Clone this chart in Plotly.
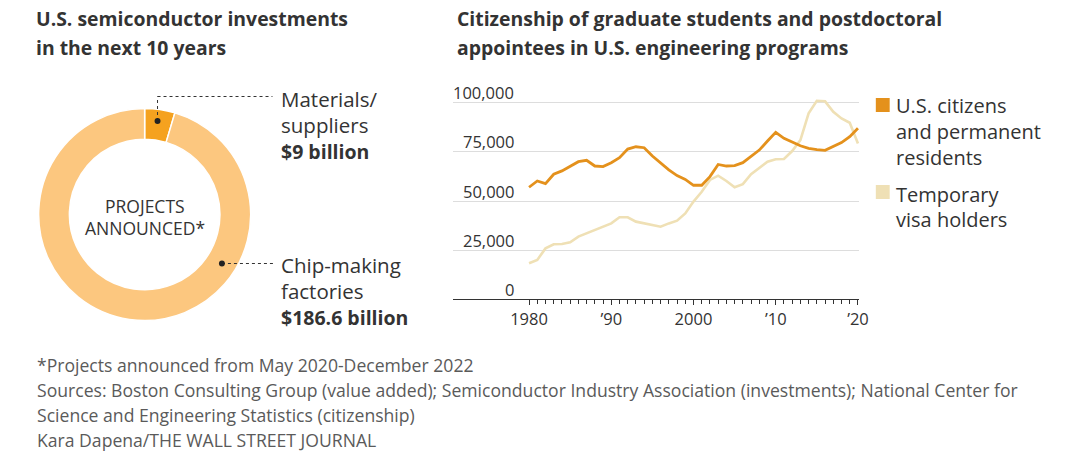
import plotly.graph_objects as go

# ---- Donut data ----
donut_labels = ["Materials/suppliers", "Chip-making factories"]
donut_values = [9.0, 186.6]
donut_colors = ["#f5a21f", "#fcc77f"]

# ---- Line chart data ----
years = list(range(1980, 2021))
us_citizens = [57.0, 60.2, 58.8, 63.6, 65.3, 67.5, 70.0, 70.7, 67.8, 67.5,
               69.5, 72.0, 76.4, 77.6, 77.1, 72.9, 69.2, 65.8, 62.9, 61.0,
               58.0, 58.0, 62.4, 68.6, 67.8, 68.0, 69.5, 72.9, 75.9, 80.5,
               84.9, 81.9, 79.8, 78.1, 76.8, 76.1, 75.8, 77.6, 79.7, 82.7,
               87.0]
temp_visa = [18.3, 20.0, 25.9, 28.0, 28.1, 29.0, 31.9, 33.6, 35.4, 36.9,
             38.6, 41.7, 41.7, 39.5, 38.6, 37.5, 36.9, 38.6, 40.0, 43.7,
             49.7, 54.7, 60.7, 62.9, 60.2, 57.0, 58.6, 63.6, 66.6, 70.0,
             71.2, 71.4, 75.4, 81.0, 94.6, 101.0, 100.7, 95.4, 92.0, 89.8,
             79.3]
us_citizens = [v * 1000 for v in us_citizens]
temp_visa = [v * 1000 for v in temp_visa]

y_ticks = [0, 25000, 50000, 75000, 100000]
y_tick_labels = ["0", "25,000", "50,000", "75,000", "100,000"]
x_ticks = [1980, 1990, 2000, 2010, 2020]
x_tick_labels = ["1980", "’90", "2000", "’10", "’20"]

W, H = 1080, 474
FONT = "Open Sans"
DARK = "#333333"
GRAY = "#5a5a5a"
ORANGE = "#e4911c"
LIGHT = "#efe0b5"


def px(x):
    return x / W


def py(y):
    return 1 - y / H


fig = go.Figure()

# Donut
fig.add_trace(go.Pie(
    labels=donut_labels, values=donut_values,
    marker=dict(colors=donut_colors, line=dict(color="white", width=1.5)),
    hole=0.71, sort=False, direction="clockwise", rotation=0,
    textinfo="none", hoverinfo="label+value", showlegend=False,
    domain=dict(x=[px(146 - 107), px(146 + 107)], y=[py(214.5 + 107), py(214.5 - 107)]),
))

# Lines
fig.add_trace(go.Scatter(x=years, y=temp_visa, mode="lines", name="Temporary visa holders",
                         line=dict(color=LIGHT, width=2.6), showlegend=False))
fig.add_trace(go.Scatter(x=years, y=us_citizens, mode="lines", name="U.S. citizens and permanent residents",
                         line=dict(color=ORANGE, width=2.8), showlegend=False))

ytop = 100000 * (299.3 - 95) / 196.6
fig.update_layout(
    width=W, height=H, margin=dict(l=0, r=0, t=0, b=0),
    paper_bgcolor="white", plot_bgcolor="white",
    font=dict(family=FONT, color=DARK),
    xaxis=dict(domain=[px(457.3), px(867.3)], range=[1970.76, 2020.16],
               tickmode="array", tickvals=x_ticks, ticktext=x_tick_labels,
               ticks="outside", ticklen=5, tickcolor=DARK, tickwidth=1,
               tickfont=dict(size=16.5, color=DARK, family=FONT),
               showgrid=False, zeroline=False, showline=True, linecolor=DARK, linewidth=1.2,
               minor=dict(tickmode="array", tickvals=years, ticks="outside", ticklen=3.5,
                          tickcolor=DARK, tickwidth=1, showgrid=False),
               fixedrange=True),
    yaxis=dict(domain=[py(299.3), py(95)], range=[0, ytop],
               tickmode="array", tickvals=y_ticks, showticklabels=False,
               showgrid=True, gridcolor="#dddddd", gridwidth=1, zeroline=False,
               fixedrange=True),
)

ann = []
# y tick labels above gridlines
for v, t in zip(y_ticks, y_tick_labels):
    ann.append(dict(x=px(521), xref="paper", y=v, yref="y", text=t, showarrow=False,
                    xanchor="right", yanchor="middle", yshift=10,
                    font=dict(size=16.5, color=DARK, family=FONT)))


def line(x, y, text, size, color=DARK, anchor="left"):
    ann.append(dict(x=px(x), y=py(y), xref="paper", yref="paper", xanchor=anchor, yanchor="middle",
                    text=text, showarrow=False, font=dict(size=size, color=color, family=FONT)))


# Titles
line(34, 19, "<b>U.S. semiconductor investments</b>", 19.4)
line(34, 47, "<b>in the next 10 years</b>", 19.4)
line(459, 19, "<b>Citizenship of graduate students and postdoctoral</b>", 19.4)
line(459, 47, "<b>appointees in U.S. engineering programs</b>", 19.4)

# Donut center text
line(146, 206, "PROJECTS", 17.5, anchor="center")
line(146, 228, "ANNOUNCED*", 17.5, anchor="center")

# Donut labels
line(282, 99, "Materials/", 20.5)
line(282, 125, "suppliers", 20.5)
line(282, 151, "<b>$9 billion</b>", 19.5)
line(282, 265, "Chip-making", 20.5)
line(282, 291, "factories", 20.5)
line(282, 317, "<b>$186.6 billion</b>", 19.5)

# Legend
line(902, 106, "U.S. citizens", 20)
line(902, 132, "and permanent", 20)
line(902, 157, "residents", 20)
line(902, 194, "Temporary", 20)
line(902, 219, "visa holders", 20)

# Footer
foot = ["*Projects announced from May 2020-December 2022",
        "Sources: Boston Consulting Group (value added); Semiconductor Industry Association (investments); National Center for",
        "Science and Engineering Statistics (citizenship)",
        "Kara Dapena/THE WALL STREET JOURNAL"]
for i, t in enumerate(foot):
    line(35, 365 + i * 25, t, 17.6, color=GRAY)

fig.update_layout(annotations=ann)

shapes = []
# legend squares
shapes.append(dict(type="rect", xref="paper", yref="paper", x0=px(884), x1=px(898), y0=py(112), y1=py(98),
                   fillcolor=ORANGE, line=dict(width=0)))
shapes.append(dict(type="rect", xref="paper", yref="paper", x0=px(884), x1=px(898), y0=py(199), y1=py(185),
                   fillcolor=LIGHT, line=dict(width=0)))
# leader lines
dot = dict(color=DARK, width=1, dash="dot")
shapes.append(dict(type="line", xref="paper", yref="paper", x0=px(159), x1=px(159), y0=py(121), y1=py(96.5), line=dot))
shapes.append(dict(type="line", xref="paper", yref="paper", x0=px(159), x1=px(275), y0=py(96.5), y1=py(96.5), line=dot))
shapes.append(dict(type="line", xref="paper", yref="paper", x0=px(224), x1=px(277), y0=py(263.5), y1=py(263.5), line=dot))
# dots
for cx, cy in [(159, 121), (224, 263.5)]:
    shapes.append(dict(type="circle", xref="paper", yref="paper", x0=px(cx - 3), x1=px(cx + 3),
                       y0=py(cy + 3), y1=py(cy - 3), fillcolor="#222222", line=dict(width=0)))
fig.update_layout(shapes=shapes)

fig.write_html("out.html",
               post_script="document.body.style.margin='0';document.body.style.overflow='hidden';",
               config={"displayModeBar": False})
